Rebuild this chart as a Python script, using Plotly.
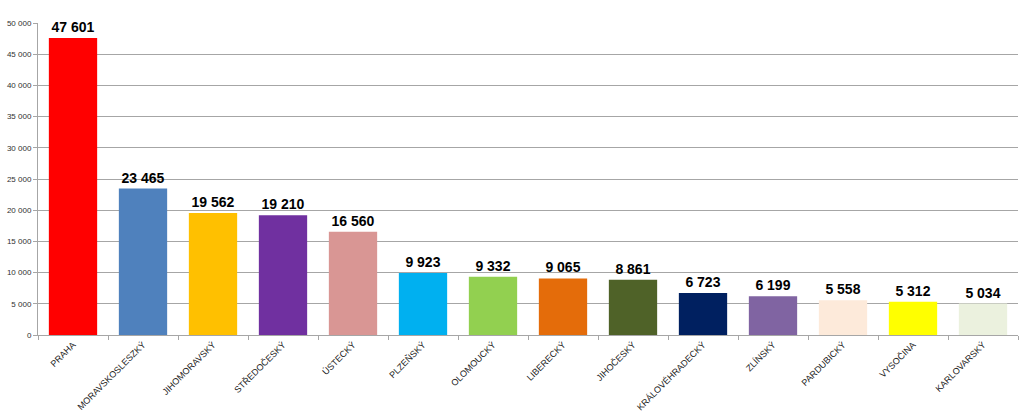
import plotly.graph_objects as go

regions = ["PRAHA", "MORAVSKOSLESZKÝ", "JIHOMORAVSKÝ", "STŘEDOČESKÝ", "ÚSTECKÝ", "PLZEŇSKÝ",
           "OLOMOUCKÝ", "LIBERECKÝ", "JIHOČESKÝ", "KRÁLOVÉHRADECKÝ", "ZLÍNSKÝ", "PARDUBICKÝ",
           "VYSOČINA", "KARLOVARSKÝ"]
values = [47601, 23465, 19562, 19210, 16560, 9923, 9332, 9065, 8861, 6723, 6199, 5558, 5312, 5034]
colors = ["#FF0000", "#4F81BD", "#FFC000", "#7030A0", "#D99694", "#00B0F0", "#92D050",
          "#E46C0A", "#4F6228", "#002060", "#8064A2", "#FDEADA", "#FFFF00", "#EBF1DE"]
y_ticks = [0, 5000, 10000, 15000, 20000, 25000, 30000, 35000, 40000, 45000, 50000]

fig = go.Figure(go.Bar(
    x=regions, y=values,
    marker=dict(color=colors, line=dict(width=0)),
    width=0.69,
    texttemplate="%{y:,d}", textposition="outside", cliponaxis=False,
    constraintext="none",
    textfont=dict(family="Liberation Sans", size=14, color="#000000", weight="bold"),
))

fig.update_layout(
    width=1024, height=419,
    margin=dict(l=38, r=6, t=23, b=84, autoexpand=False),
    paper_bgcolor="white", plot_bgcolor="white",
    separators=", ",
    showlegend=False,
    bargap=0.31,
    font=dict(family="Liberation Sans", color="#404040"),
)
fig.update_xaxes(
    type="category", tickangle=-45, tickfont=dict(size=9, color="#202020"),
    showline=True, linecolor="#A6A6A6", linewidth=1, automargin=False,
    ticks="outside", tickson="boundaries", ticklen=4, tickcolor="#A6A6A6",
    showgrid=False,
)
fig.update_yaxes(
    range=[0, 50000], tickvals=y_ticks, tickformat=",d",
    tickfont=dict(size=8, color="#303030"), automargin=False,
    showline=True, linecolor="#A6A6A6", linewidth=1,
    ticks="outside", ticklen=4, tickcolor="#A6A6A6",
    showgrid=True, gridcolor="#A6A6A6", gridwidth=1, zeroline=False,
)

fig.write_html("out.html", config={"displayModeBar": False},
               post_script="document.body.style.margin='0';")
